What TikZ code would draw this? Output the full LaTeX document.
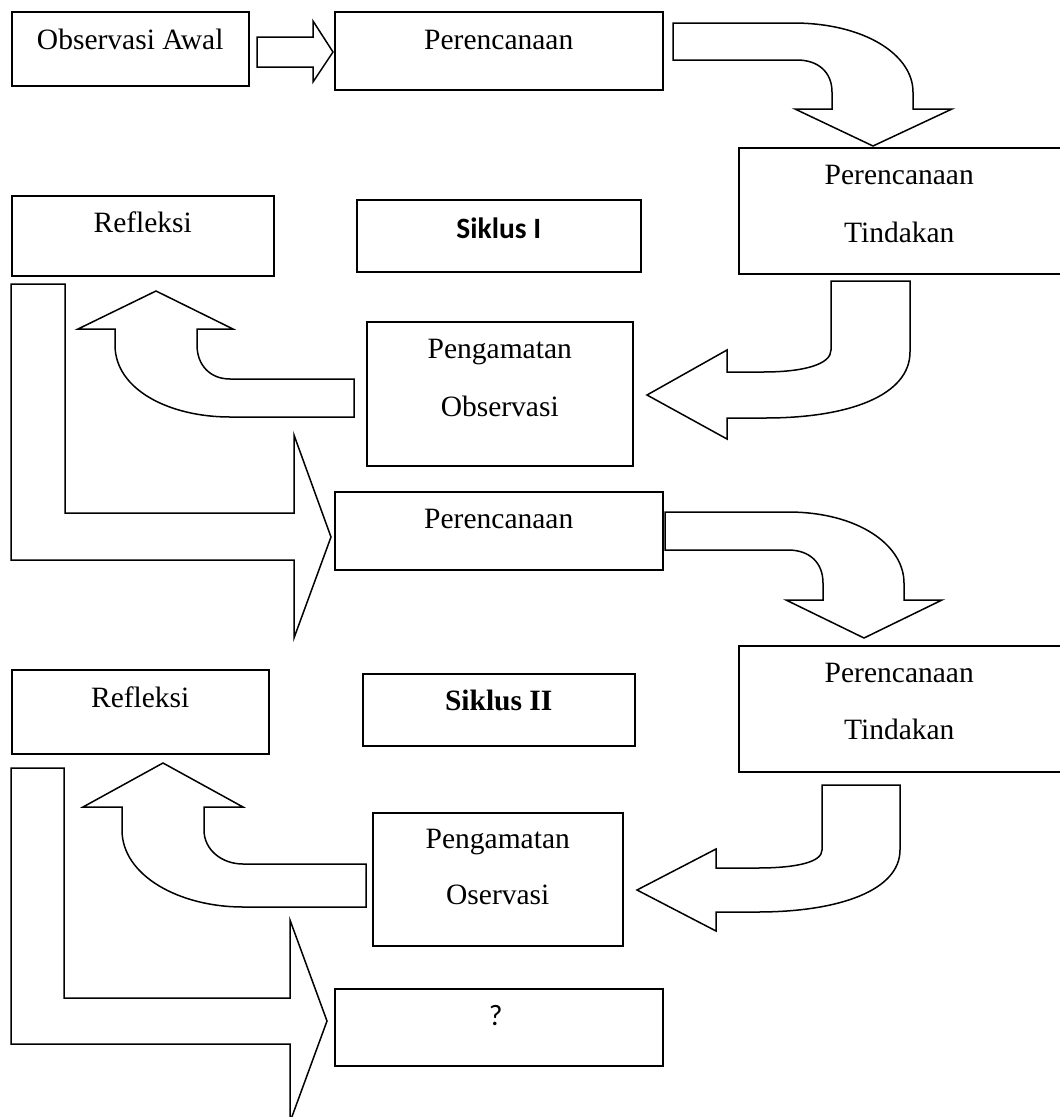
\documentclass[tikz,border=0pt]{standalone}
\usepackage{fontspec}
\setmainfont{Liberation Serif}
\newfontfamily\calibri{Carlito}
\begin{document}
\begin{tikzpicture}[x=1pt,y=-1pt]
\tikzstyle{box}=[draw,line width=1.5pt,shape=rectangle,inner sep=0pt,anchor=north west];
\tikzstyle{txt}=[anchor=base,inner sep=0pt,font=\fontsize{29.5}{34}\selectfont];
\tikzstyle{blok}=[draw,line width=1.5pt,fill=white];
\useasboundingbox[fill=white] (0,0) rectangle (1060,1117);

% kotak
\node[box,minimum width=237pt,minimum height=74pt] (awal) at (11,11) {};
\node[box,minimum width=328pt,minimum height=78pt] (renc1) at (334,11) {};
\node[box,minimum width=262pt,minimum height=80pt] (refl1) at (11,195) {};
\node[box,minimum width=284pt,minimum height=72pt] (siklus1) at (356,199) {};
\node[box,minimum width=323pt,minimum height=126pt] (tind1) at (738,147) {};
\node[box,minimum width=266pt,minimum height=144pt] (amat1) at (366,321) {};
\node[box,minimum width=328pt,minimum height=78pt] (renc2) at (334,491) {};
\node[box,minimum width=257pt,minimum height=84pt] (refl2) at (11,669) {};
\node[box,minimum width=272pt,minimum height=72pt] (siklus2) at (362,673) {};
\node[box,minimum width=323pt,minimum height=126pt] (tind2) at (738,645) {};
\node[box,minimum width=250pt,minimum height=133pt] (amat2) at (372,812) {};
\node[box,minimum width=328pt,minimum height=77pt] (tanya) at (334,988) {};

% tulisan
\node[txt] (awalT) at ([yshift=-38pt]awal.north) {Observasi Awal};
\node[txt] (renc1T) at ([yshift=-38pt]renc1.north) {Perencanaan};
\node[txt] (refl1T) at ([yshift=-37pt]refl1.north) {Refleksi};
\node[txt,font=\calibri\bfseries\fontsize{29.5}{34}\selectfont] (siklus1T) at ([yshift=-39pt]siklus1.north) {Siklus I};
\node[txt] (tind1A) at ([xshift=-1pt,yshift=-37pt]tind1.north) {Perencanaan};
\node[txt] (tind1B) at ([xshift=-1pt,yshift=-95pt]tind1.north) {Tindakan};
\node[txt] (amat1A) at ([yshift=-37pt]amat1.north) {Pengamatan};
\node[txt] (amat1B) at ([yshift=-95pt]amat1.north) {Observasi};
\node[txt] (renc2T) at ([yshift=-37pt]renc2.north) {Perencanaan};
\node[txt] (refl2T) at ([yshift=-38pt]refl2.north) {Refleksi};
\node[txt,font=\bfseries\fontsize{29.5}{34}\selectfont] (siklus2T) at ([yshift=-37pt]siklus2.north) {Siklus II};
\node[txt] (tind2A) at ([xshift=-1pt,yshift=-37pt]tind2.north) {Perencanaan};
\node[txt] (tind2B) at ([xshift=-1pt,yshift=-94pt]tind2.north) {Tindakan};
\node[txt] (amat2A) at ([yshift=-36pt]amat2.north) {Pengamatan};
\node[txt] (amat2B) at ([yshift=-92pt]amat2.north) {Oservasi};
\node[txt,font=\calibri\fontsize{29.5}{34}\selectfont] (tanyaT) at ([xshift=-3pt,yshift=-37pt]tanya.north) {?};

% panah siklus I
\draw[blok] (257,37) -- (313,37) -- (313,21) -- (333,52) -- (313,82) -- (313,67) -- (257,67) -- cycle;
\draw[blok] (673,23) -- (793,23) .. controls (865,23) and (913,55) .. (913,92) -- (913,109)
  -- (952,109) -- (873,146) -- (795,109) -- (832,109) -- (832,92)
  .. controls (832,72) and (818,60) .. (797,60) -- (673,60) -- cycle;
\draw[blok] (831,281) -- (910,281) -- (910,352) .. controls (910,395) and (850,418) .. (765,418)
  -- (727,418) -- (727,439) -- (647,395) -- (727,350) -- (727,372) -- (763,372)
  .. controls (805,372) and (831,364) .. (831,350) -- cycle;
\draw[blok] (354,379) -- (230,379) .. controls (210,379) and (197,365) .. (197,345) -- (197,329)
  -- (233,329) -- (156,291) -- (78,329) -- (115,329) -- (115,345)
  .. controls (115,390) and (170,417) .. (230,417) -- (354,417) -- cycle;
\draw[blok] (11,284) -- (65,284) -- (65,513) -- (294,513) -- (294,435) -- (331,537)
  -- (294,638) -- (294,560) -- (11,560) -- cycle;

% panah siklus II
\draw[blok] (665,512) -- (788,512) .. controls (858,512) and (904,545) .. (904,583) -- (904,600)
  -- (942,600) -- (864,638) -- (786,600) -- (823,600) -- (823,583)
  .. controls (823,563) and (810,550) .. (788,550) -- (665,550) -- cycle;
\draw[blok] (822,785) -- (900,785) -- (900,850) .. controls (900,890) and (840,912) .. (757,912)
  -- (716,912) -- (716,931) -- (637,890) -- (716,849) -- (716,868) -- (757,868)
  .. controls (797,868) and (822,862) .. (822,850) -- cycle;
\draw[blok] (366,864) -- (243,864) .. controls (222,864) and (204,850) .. (204,830) -- (204,807)
  -- (243,807) -- (163,763) -- (83,807) -- (122,807) -- (122,830)
  .. controls (122,876) and (180,907) .. (243,907) -- (366,907) -- cycle;
\draw[blok] (11,768) -- (64,768) -- (64,998) -- (290,998) -- (290,920) -- (327,1021)
  -- (290,1122) -- (290,1044) -- (11,1044) -- cycle;
\end{tikzpicture}
\end{document}
